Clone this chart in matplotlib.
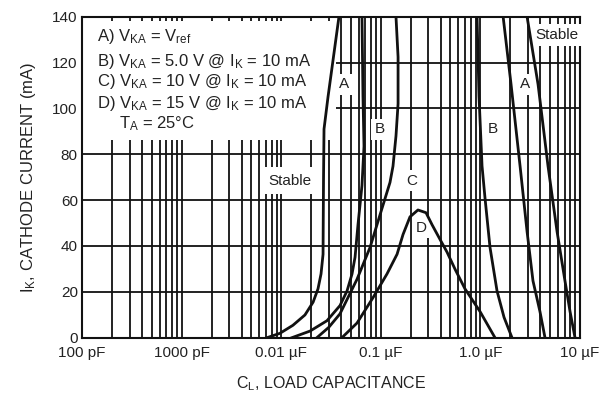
import numpy as np
import matplotlib.pyplot as plt
from matplotlib.patches import Rectangle
from matplotlib.ticker import FixedLocator, NullFormatter

plt.rcParams['font.family'] = ['Liberation Sans', 'DejaVu Sans']
plt.rcParams['mathtext.fontset'] = 'custom'
plt.rcParams['mathtext.rm'] = 'Liberation Sans'
plt.rcParams['mathtext.it'] = 'Liberation Sans'

#======== stability boundaries (C in uF, I in mA) ========
a_left_c = [0.0072, 0.0097, 0.0131, 0.0173, 0.0209, 0.0234, 0.0251, 0.0263, 0.0264, 0.0266, 0.0269, 0.0295, 0.038]
a_left_i = [0, 1.9, 5.4, 9.9, 15.5, 21.3, 27.8, 36.4, 49, 70, 91, 105, 140]
a_right_c = [2.94, 3.79, 4.77, 5.88, 7.06, 7.94, 8.91]
a_right_i = [140, 110.5, 74.9, 46.3, 24.8, 11.4, 0]

b_left_c = [0.0128, 0.0195, 0.0288, 0.0389, 0.0458, 0.0514, 0.0551, 0.059, 0.0647, 0.0678, 0.0662, 0.0647]
b_left_i = [0, 2.9, 7.4, 14.0, 20.4, 27.8, 35.1, 49.3, 66.4, 83.5, 105.3, 140]
b_right_c = [1.69, 2.03, 2.50, 2.94, 3.37, 3.96, 4.45]
b_right_i = [140, 110.5, 74.9, 46.3, 24.8, 11.4, 0]

c_left_c = [0.0228, 0.030, 0.0389, 0.0577, 0.078, 0.0982, 0.1236, 0.1325, 0.142, 0.149, 0.149, 0.142]
c_left_i = [0, 4.5, 10.4, 25.5, 39.4, 53.6, 67.7, 74.8, 88, 102, 122.4, 140]
c_right_c = [0.925, 0.968, 1.038, 1.112, 1.248, 1.468, 1.726, 2.075]
c_right_i = [140, 105.3, 74.9, 60.9, 39.4, 20.4, 8.9, 0]

d_c = [0.0407, 0.0577, 0.0836, 0.1153, 0.1456, 0.1671, 0.1963, 0.236, 0.2844, 0.3266, 0.3926, 0.4624, 0.5559, 0.70, 0.991, 1.40]
d_i = [0, 6.4, 17.5, 27.8, 36.4, 45.0, 52.7, 55.7, 54.5, 49.3, 42.9, 37.3, 29.9, 21.3, 11.4, 0]

x_ticks = [1e-4, 1e-3, 1e-2, 1e-1, 1, 10]
x_labels = ['100 pF', '1000 pF', '0.01 \u00b5F', '0.1 \u00b5F', '1.0 \u00b5F', '10 \u00b5F']
y_ticks = [0, 20, 40, 60, 80, 100, 120, 140]

legend_lines = [r'A) V$_{\mathregular{KA}}$ = V$_{\mathregular{ref}}$',
                r'B) V$_{\mathregular{KA}}$ = 5.0 V @ I$_{\mathregular{K}}$ = 10 mA',
                r'C) V$_{\mathregular{KA}}$ = 10 V @ I$_{\mathregular{K}}$ = 10 mA',
                r'D) V$_{\mathregular{KA}}$ = 15 V @ I$_{\mathregular{K}}$ = 10 mA']
temp_line = r'T$_{\mathregular{A}}$ = 25' + '\u00b0C'

curve_labels = [('A', 0.0428, 110.5), ('B', 0.0982, 90.9), ('C', 0.2056, 68.5),
                ('D', 0.2535, 48.0), ('B', 1.34, 90.9), ('A', 2.805, 110.5)]

#======== figure ========
fig = plt.figure(figsize=(6.13, 4.01), dpi=100)
ax = fig.add_axes([0.1338, 0.1579, 0.8124, 0.8005])
ax.set_xscale('log')
ax.set_xlim(1e-4, 10)
ax.set_ylim(0, 140)

ink = '#111111'
txt = '#222222'
ax.xaxis.set_major_locator(FixedLocator(x_ticks))
ax.xaxis.set_minor_locator(FixedLocator([m * 10.0**e for e in range(-4, 1) for m in range(2, 10)]))
ax.xaxis.set_minor_formatter(NullFormatter())
ax.set_xticklabels(x_labels)
ax.set_yticks(y_ticks)
ax.grid(which='both', axis='x', color=ink, lw=1.3, zorder=1)
ax.grid(which='major', axis='y', color=ink, lw=1.3, zorder=1)
ax.set_axisbelow(True)
ax.tick_params(which='both', length=0, labelsize=11, labelcolor=txt)
ax.tick_params(axis='x', pad=6)
ax.tick_params(axis='y', pad=3)
for s in ax.spines.values():
    s.set_linewidth(1.5)
    s.set_color(ink)

# white box behind the conditions text (grid stubs left showing at the top)
ax.add_patch(Rectangle((0, 0.616), 0.51, 0.371, transform=ax.transAxes,
                       facecolor='white', edgecolor='none', zorder=2))

for c, i in [(a_left_c, a_left_i), (a_right_c, a_right_i), (b_left_c, b_left_i),
             (b_right_c, b_right_i), (c_left_c, c_left_i), (c_right_c, c_right_i), (d_c, d_i)]:
    ax.plot(c, i, color=ink, lw=2.0, zorder=4, solid_joinstyle='round')

box = dict(facecolor='white', edgecolor='none', pad=2.5)
for t, xc, yc in curve_labels:
    ax.text(xc, yc, t, fontsize=11, ha='center', va='center', color=txt,
            bbox=box, zorder=3)
ax.text(0.01225, 68.5, 'Stable', fontsize=11, ha='center', va='center', color=txt,
        bbox=dict(facecolor='white', edgecolor='none', pad=5), zorder=3)
ax.text(5.9, 132.0, 'Stable', fontsize=11, ha='center', va='center', color=txt,
        bbox=dict(facecolor='white', edgecolor='none', pad=3), zorder=3)

ys = [0.937, 0.859, 0.797, 0.731]
for t, yy in zip(legend_lines, ys):
    ax.text(0.030, yy, t, transform=ax.transAxes, fontsize=12, va='center', color=txt, zorder=3)
ax.text(0.075, 0.666, temp_line, transform=ax.transAxes, fontsize=12, va='center', color=txt, zorder=3)

ax.set_xlabel(r'C$_{\mathregular{L}}$, LOAD CAPACITANCE', fontsize=11.5, color=txt, labelpad=10)
ax.set_ylabel(r'I$_{\mathregular{K}}$, CATHODE CURRENT (mA)', fontsize=12, color=txt, labelpad=10)

fig.savefig('out.png', dpi=100)
